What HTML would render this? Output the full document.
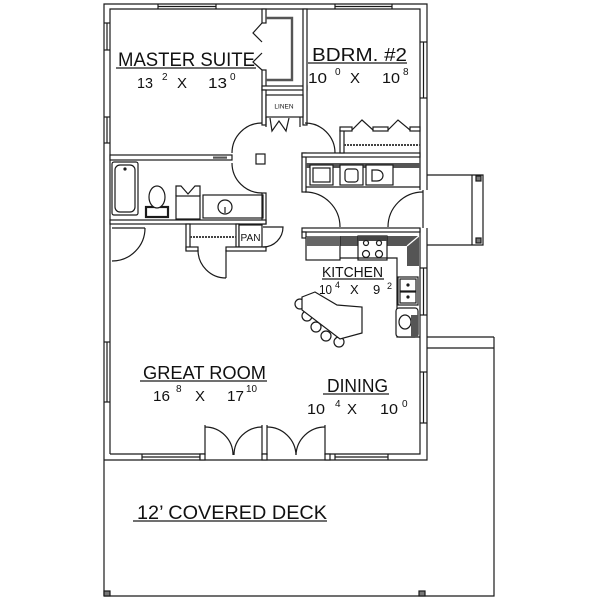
<!DOCTYPE html>
<html><head><meta charset="utf-8"><style>
html,body{margin:0;padding:0;background:#fff;}
svg{display:block;}
text{font-family:"Liberation Sans",sans-serif;fill:#111;}
</style></head><body>
<svg width="600" height="600" viewBox="0 0 600 600" xmlns="http://www.w3.org/2000/svg">
<rect width="600" height="600" fill="#fff"/>
<g fill="none" stroke="#1a1a1a" stroke-width="1.2">
<!-- exterior outer -->
<polyline points="104,596 104,4 427,4 427,190"/>
<polyline points="427,228 427,460 104,460"/>
<!-- exterior inner -->
<polyline points="110,454 110,9 420,9 420,190"/>
<polyline points="420,228 420,454 325,454"/>
<line x1="110" y1="454" x2="205" y2="454"/>
<line x1="262" y1="454" x2="267" y2="454"/>
<!-- windows horizontal -->
<g>
<line x1="158" y1="6.5" x2="216" y2="6.5"/><line x1="158" y1="4" x2="158" y2="9"/><line x1="216" y1="4" x2="216" y2="9"/>
<line x1="335" y1="6.5" x2="392" y2="6.5"/><line x1="335" y1="4" x2="335" y2="9"/><line x1="392" y1="4" x2="392" y2="9"/>
<line x1="142" y1="457" x2="200" y2="457"/><line x1="142" y1="454" x2="142" y2="460"/><line x1="200" y1="454" x2="200" y2="460"/>
<line x1="335" y1="457" x2="388" y2="457"/><line x1="335" y1="454" x2="335" y2="460"/><line x1="388" y1="454" x2="388" y2="460"/>
<!-- windows vertical -->
<line x1="107" y1="23" x2="107" y2="50"/><line x1="104" y1="23" x2="110" y2="23"/><line x1="104" y1="50" x2="110" y2="50"/>
<line x1="107" y1="117" x2="107" y2="143"/><line x1="104" y1="117" x2="110" y2="117"/><line x1="104" y1="143" x2="110" y2="143"/>
<line x1="107" y1="342" x2="107" y2="402"/><line x1="104" y1="342" x2="110" y2="342"/><line x1="104" y1="402" x2="110" y2="402"/>
<line x1="423.5" y1="42" x2="423.5" y2="98"/><line x1="420" y1="42" x2="427" y2="42"/><line x1="420" y1="98" x2="427" y2="98"/>
<line x1="423.5" y1="268" x2="423.5" y2="315"/><line x1="420" y1="268" x2="427" y2="268"/><line x1="420" y1="315" x2="427" y2="315"/>
<line x1="423.5" y1="372" x2="423.5" y2="423"/><line x1="420" y1="372" x2="427" y2="372"/><line x1="420" y1="423" x2="427" y2="423"/>
</g>
<!-- interior walls -->
<g fill="#fff">
<rect x="110" y="155" width="122" height="5"/>
<rect x="256" y="154" width="9" height="10"/>
<rect x="262" y="9" width="4" height="14"/>
<rect x="262" y="70" width="4" height="20"/>
<rect x="262" y="86" width="45" height="4"/>
<rect x="303" y="9" width="4" height="116"/>
<rect x="262" y="90" width="4" height="35"/>
<rect x="266" y="95" width="37" height="22"/>
<rect x="262" y="193" width="4" height="31"/>
<rect x="110" y="220" width="156" height="4"/>
<rect x="186" y="224" width="4" height="26"/>
<rect x="186" y="247" width="12" height="4"/>
<rect x="236" y="224" width="3" height="23"/>
<rect x="239" y="225" width="23" height="22"/>
<rect x="226" y="247" width="40" height="4"/>
<rect x="302" y="153" width="4" height="39"/>
<rect x="302" y="153" width="118" height="4"/>
<rect x="340" y="130" width="4" height="23"/>
<rect x="340" y="127" width="12" height="4"/>
<rect x="373" y="127" width="15" height="4"/>
<rect x="410" y="127" width="10" height="4"/>
<rect x="302" y="228" width="118" height="4"/>
<rect x="302" y="232" width="4" height="6"/>
<rect x="200" y="454" width="5" height="6"/>
<rect x="262" y="454" width="5" height="6"/>
<rect x="325" y="454" width="5" height="6"/>
</g>
<rect x="213" y="156.5" width="14" height="2.2" fill="#555" stroke="none"/>
<!-- master closet -->
<polyline points="266,18 292,18 292,80 266,80" stroke="#555" stroke-width="2.4"/>
<polyline points="262,23 253,33 262,42"/>
<polyline points="262,53 253,62 262,70"/>
<!-- linen bifold -->
<polyline points="270,118 272,131 279,121 286,131 289,118"/>
<line x1="266" y1="117" x2="266" y2="127"/><line x1="300" y1="117" x2="300" y2="127"/>
<!-- bath -->
<rect x="112" y="162" width="26" height="53" rx="2"/>
<rect x="115" y="165" width="20" height="47" rx="5"/>
<circle cx="125" cy="169" r="1" fill="#222"/>
<rect x="146" y="207" width="22" height="10" stroke-width="2.2"/>
<ellipse cx="157" cy="197" rx="8" ry="11" fill="#fff"/>
<polyline points="176,196 176,186 181,186 188,194 195,186 200,186 200,196"/>
<rect x="176" y="196" width="24" height="23"/>
<rect x="203" y="195" width="60" height="23"/>
<circle cx="225" cy="207" r="7"/>
<line x1="225" y1="207" x2="225" y2="213"/>
<!-- doors -->
<line x1="112" y1="228" x2="145" y2="228"/>
<path d="M145 228 A33 33 0 0 1 112 261"/>
<line x1="226" y1="250" x2="226" y2="278"/>
<path d="M198 250 A28 28 0 0 0 226 278"/>
<line x1="190" y1="237" x2="236" y2="237" stroke="#444" stroke-width="2" stroke-dasharray="2 1"/>
<path d="M263 227 L283 227 A20 20 0 0 1 263 247"/>
<path d="M232 153 A30 30 0 0 1 262 123"/>
<path d="M232 163 A30 30 0 0 0 262 193"/>
<path d="M305 123 A30 30 0 0 1 335 153"/>
<path d="M305 192 A35 35 0 0 1 340 227"/>
<path d="M423 192 A35 35 0 0 0 388 227"/>
<line x1="423" y1="190" x2="423" y2="228"/>
<!-- bdrm2 closet -->
<polyline points="352,130 362,120 373,130"/>
<polyline points="388,130 398,120 410,130"/>
<line x1="344" y1="145" x2="420" y2="145" stroke="#444" stroke-width="2" stroke-dasharray="2 1"/>
<!-- laundry -->
<rect x="306" y="163" width="114" height="5" fill="#555" stroke="none"/>
<rect x="310" y="165" width="23" height="20" fill="#fff"/>
<rect x="313" y="168" width="17" height="14"/>
<rect x="340" y="165" width="23" height="20" fill="#fff"/>
<rect x="345" y="169" width="13" height="13" rx="3"/>
<rect x="366" y="165" width="27" height="20" fill="#fff"/>
<path d="M372 170 L372 181 L377 181 A6 5.5 0 0 0 377 170 Z"/>
<line x1="306" y1="187" x2="420" y2="187"/>
<!-- kitchen -->
<polygon points="340,236 419,236 419,266 407,266 407,246 340,246" fill="#555" stroke="none"/>
<line x1="407" y1="246" x2="419" y2="236" stroke="#fff"/>
<rect x="306" y="237" width="34" height="23" fill="#fff"/>
<rect x="306" y="237" width="34" height="9" fill="#666" stroke="none"/>
<rect x="358" y="236" width="29" height="24" fill="#fff"/>
<rect x="358" y="236" width="29" height="5" fill="#444" stroke="none"/>
<circle cx="366" cy="243" r="2.5"/><circle cx="379" cy="243" r="2.5"/>
<circle cx="366" cy="254" r="3.5"/><circle cx="379" cy="254" r="3.5"/>
<polyline points="340,258 397,258 397,337 420,337"/>
<rect x="398" y="277" width="20" height="28" fill="#fff"/>
<rect x="400" y="279" width="16" height="12"/>
<rect x="400" y="292" width="16" height="11"/>
<circle cx="408" cy="285" r="1" fill="#222"/><circle cx="408" cy="297" r="1" fill="#222"/>
<rect x="396" y="308" width="22" height="29" rx="3" fill="#fff"/>
<ellipse cx="405" cy="322" rx="6" ry="7"/>
<rect x="411" y="315" width="7" height="22" fill="#555" stroke="none"/>
<!-- island -->
<circle cx="300" cy="304" r="5" fill="#fff"/>
<circle cx="307" cy="316" r="5" fill="#fff"/>
<circle cx="316" cy="327" r="5" fill="#fff"/>
<circle cx="326" cy="336" r="5" fill="#fff"/>
<circle cx="339" cy="342" r="5" fill="#fff"/>
<polygon points="302,297 315,292 337,305 362,307 362,333 340,339 302,310" fill="#fff"/>
<!-- french doors -->
<line x1="205" y1="425" x2="205" y2="455"/><line x1="262" y1="425" x2="262" y2="455"/>
<path d="M205 427 A28 28 0 0 1 233 455"/><path d="M262 427 A28 28 0 0 0 234 455"/>
<line x1="267" y1="425" x2="267" y2="455"/><line x1="325" y1="425" x2="325" y2="455"/>
<path d="M267 427 A29 29 0 0 1 296 455"/><path d="M325 427 A29 29 0 0 0 296 455"/>
<!-- entry porch -->
<polyline points="427,175 483,175 483,245 427,245"/>
<line x1="472" y1="175" x2="472" y2="245"/>
<rect x="476" y="176" width="5" height="5" fill="#777"/>
<rect x="476" y="238" width="5" height="5" fill="#777"/>
<!-- deck -->
<line x1="427" y1="337" x2="494" y2="337"/>
<line x1="427" y1="348" x2="494" y2="348"/>
<polyline points="494,337 494,596 104,596"/>
<rect x="104" y="591" width="6" height="5" fill="#777"/>
<rect x="419" y="591" width="6" height="5" fill="#777"/>
<!-- underlines -->
<line x1="116" y1="68" x2="256" y2="68"/>
<line x1="308" y1="63" x2="407" y2="63"/>
<line x1="140" y1="381" x2="267" y2="381"/>
<line x1="322" y1="279" x2="384" y2="279"/>
<line x1="323" y1="394" x2="389" y2="394"/>
<line x1="133" y1="521" x2="327" y2="521"/>
</g>
<!-- labels -->
<text x="118" y="66" font-size="19" textLength="137" lengthAdjust="spacingAndGlyphs">MASTER SUITE</text>
<text x="137" y="88" font-size="15" textLength="16" lengthAdjust="spacingAndGlyphs">13</text>
<text x="162" y="80" font-size="10">2</text>
<text x="177" y="88" font-size="15">X</text>
<text x="208" y="88" font-size="15" textLength="19" lengthAdjust="spacingAndGlyphs">13</text>
<text x="230" y="80" font-size="10">0</text>

<text x="312" y="61" font-size="18" textLength="95" lengthAdjust="spacingAndGlyphs">BDRM. #2</text>
<text x="308" y="83" font-size="15" textLength="19" lengthAdjust="spacingAndGlyphs">10</text>
<text x="335" y="75" font-size="10">0</text>
<text x="350" y="83" font-size="15">X</text>
<text x="382" y="83" font-size="15" textLength="18" lengthAdjust="spacingAndGlyphs">10</text>
<text x="403" y="75" font-size="10">8</text>

<text x="284" y="108.5" font-size="6.5" text-anchor="middle">LINEN</text>
<text x="240.5" y="241" font-size="10" textLength="20" lengthAdjust="spacingAndGlyphs">PAN</text>

<text x="322" y="277" font-size="14.5" textLength="61" lengthAdjust="spacingAndGlyphs">KITCHEN</text>
<text x="319" y="294" font-size="13" textLength="13" lengthAdjust="spacingAndGlyphs">10</text>
<text x="335" y="288" font-size="9">4</text>
<text x="350" y="294" font-size="13">X</text>
<text x="373" y="294" font-size="13">9</text>
<text x="387" y="289" font-size="9">2</text>

<text x="143" y="379" font-size="18.5" textLength="123" lengthAdjust="spacingAndGlyphs">GREAT ROOM</text>
<text x="153" y="401" font-size="15" textLength="17" lengthAdjust="spacingAndGlyphs">16</text>
<text x="176" y="392" font-size="10">8</text>
<text x="195" y="401" font-size="15">X</text>
<text x="227" y="401" font-size="15" textLength="17" lengthAdjust="spacingAndGlyphs">17</text>
<text x="246" y="392" font-size="10" textLength="11" lengthAdjust="spacingAndGlyphs">10</text>

<text x="327" y="392" font-size="18" textLength="61" lengthAdjust="spacingAndGlyphs">DINING</text>
<text x="307" y="414" font-size="15" textLength="18" lengthAdjust="spacingAndGlyphs">10</text>
<text x="335" y="407" font-size="10">4</text>
<text x="347" y="414" font-size="15">X</text>
<text x="380" y="414" font-size="15" textLength="18" lengthAdjust="spacingAndGlyphs">10</text>
<text x="402" y="407" font-size="10">0</text>

<text x="137" y="519" font-size="19" textLength="190" lengthAdjust="spacingAndGlyphs">12’ COVERED DECK</text>
</svg>
</body></html>
